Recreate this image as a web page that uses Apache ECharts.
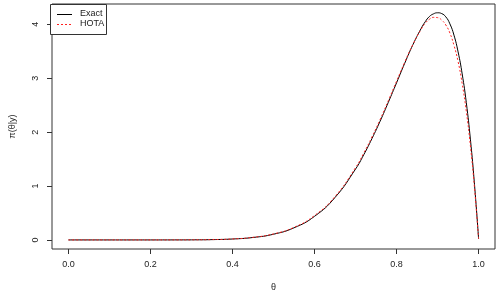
<!DOCTYPE html>
<html><head><meta charset="utf-8">
<script src="https://cdn.jsdelivr.net/npm/echarts@6/dist/echarts.min.js"></script>
<style>html,body{margin:0;padding:0;background:#fff}#c{width:500px;height:300px}</style>
</head><body><div id="c"></div>
<script>
const theta = [0,0.05,0.1,0.15,0.2,0.25,0.3,0.35,0.4,0.45,0.5,0.55,0.6,0.65,0.7,0.72,0.74,0.76,0.78,0.8,0.82,0.84,0.86,0.87,0.88,0.89,0.9,0.91,0.92,0.93,0.94,0.95,0.96,0.97,0.98,0.99,1.0];
const exactVals = [0,0,0,0,0,0.0003,0.0015,0.0056,0.0171,0.0453,0.106,0.225,0.438,0.788,1.315,1.58,1.88,2.205,2.555,2.915,3.28,3.625,3.925,4.05,4.145,4.195,4.215,4.2,4.14,4.01,3.8,3.49,3.08,2.55,1.87,1.03,0.02];
const hotaVals = [0,0,0,0,0,0.0003,0.0016,0.006,0.018,0.048,0.111,0.233,0.452,0.805,1.34,1.61,1.91,2.235,2.585,2.945,3.3,3.63,3.91,4.02,4.095,4.13,4.125,4.08,3.99,3.84,3.61,3.31,2.9,2.39,1.75,0.97,0.02];
const xTicks = [0,0.2,0.4,0.6,0.8,1.0];
const yTicks = [0,1,2,3,4];
const legendNames = ['Exact','HOTA'];

const font = 'Liberation Sans, Arial, sans-serif';
const chart = echarts.init(document.getElementById('c'), null, {renderer:'canvas'});
chart.setOption({
  animation:false,
  grid:{left:50,right:5,top:4,bottom:51,show:true,borderColor:'#333',borderWidth:1,backgroundColor:'transparent'},
  xAxis:{type:'value',min:-0.04,max:1.04,
    name:'θ',nameLocation:'middle',nameGap:34,nameTextStyle:{fontFamily:font,fontSize:9,color:'#222'},
    axisLine:{show:false,onZero:false},splitLine:{show:false},
    axisTick:{show:true,inside:false,customValues:xTicks,length:5,lineStyle:{color:'#333'}},
    axisLabel:{customValues:xTicks,margin:11,fontFamily:font,fontSize:9,color:'#222',
      formatter:v=>v.toFixed(1)}},
  yAxis:{type:'value',min:-0.1684,max:4.378,
    name:'π(θ|y)',nameLocation:'middle',nameGap:35,nameRotate:90,nameTextStyle:{fontFamily:font,fontSize:9,color:'#222'},
    axisLine:{show:false,onZero:false},splitLine:{show:false},
    axisTick:{show:true,inside:false,customValues:yTicks,length:5,lineStyle:{color:'#333'}},
    axisLabel:{customValues:yTicks,rotate:90,margin:12,fontFamily:font,fontSize:9,color:'#222',
      formatter:v=>String(v)}},
  series:[
    {name:legendNames[0],type:'line',smooth:true,symbol:'none',data:theta.map((t,i)=>[t,exactVals[i]]),
      lineStyle:{color:'#000',width:1},z:2},
    {name:legendNames[1],type:'line',smooth:true,symbol:'none',data:theta.map((t,i)=>[t,hotaVals[i]]),
      lineStyle:{color:'#ff2020',width:1,type:[2,2]},z:3}
  ],
  graphic:[
    {type:'rect',left:50,top:4,shape:{width:56,height:30},style:{fill:'#fff',stroke:'#333',lineWidth:1},z:10},
    {type:'line',shape:{x1:57,y1:14.5,x2:72,y2:14.5},style:{stroke:'#000',lineWidth:1},z:11},
    {type:'line',shape:{x1:57,y1:24.5,x2:72,y2:24.5},style:{stroke:'#ff2020',lineWidth:1,lineDash:[2,2]},z:11},
    {type:'text',left:80,top:9,style:{text:legendNames[0],font:'9px '+font,fill:'#222'},z:11},
    {type:'text',left:80,top:19,style:{text:legendNames[1],font:'9px '+font,fill:'#222'},z:11}
  ]
});
</script></body></html>
